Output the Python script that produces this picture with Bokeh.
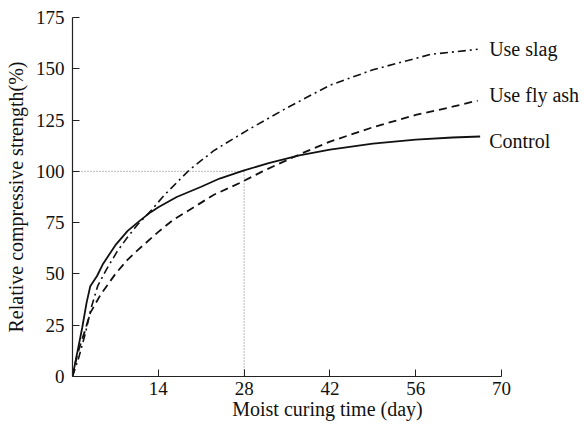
from bokeh.plotting import figure
from bokeh.models import Range1d, FixedTicker, ColumnDataSource
from bokeh.core.properties import value
from bokeh.embed import file_html
from bokeh.resources import INLINE

# ---- data ----
control_x = [0, 0.8, 1.6, 2.3, 2.9, 4.0, 5.0, 7.0, 9.0, 11.0, 12.7, 14.0, 17.0, 21.0, 24.0, 28.0, 32.0, 37.0, 42.0, 49.0, 56.0, 62.0, 66.5]
control_y = [0, 12, 24, 36, 44, 49, 55, 64, 71, 76, 80, 82.5, 87.5, 92.5, 96.5, 100.5, 104, 107.8, 110.6, 113.5, 115.5, 116.5, 117]

slag_x = [0, 1.0, 2.1, 3.0, 4.1, 5.5, 7.3, 9.0, 10.6, 12.7, 15.0, 19.0, 23.0, 28.5, 35.0, 42.0, 49.0, 58.4, 66.1]
slag_y = [0, 9, 21, 33, 44, 52, 61, 68, 74, 80.5, 88.5, 100.5, 110, 120, 131, 142, 149.5, 157, 159.5]

flyash_x = [0, 0.8, 2.0, 2.9, 4.6, 7.0, 9.0, 10.6, 14.0, 16.5, 19.8, 23.0, 27.4, 31.0, 35.0, 37.2, 42.0, 49.0, 56.0, 62.0, 66.1]
flyash_y = [0, 11, 22, 31, 40, 50, 57, 61.5, 70.5, 76.5, 82.5, 88.5, 94.5, 100, 105.5, 108.5, 114.5, 121.5, 127.5, 131.5, 134.5]

series_labels = ["Use slag", "Use fly ash", "Control"]
label_x = [66.5, 66.5, 66.5]
label_y = [159.5, 137.0, 115.0]

x_ticks = [14, 28, 42, 56, 70]
y_ticks = [0, 25, 50, 75, 100, 125, 150, 175]

ref_day = [0, 28]
ref_strength = [100, 100]

FONT = "Liberation Serif"

p = figure(width=584, height=426, output_backend="svg", toolbar_location=None,
           x_range=Range1d(0, 83.2), y_range=Range1d(0, 175),
           min_border_left=72, min_border_top=17, min_border_right=2, min_border_bottom=50)
p.outline_line_color = None
p.grid.grid_line_color = None
p.background_fill_color = "white"

# reference dotted lines
p.line([ref_day[0], ref_day[1]], [ref_strength[0], ref_strength[1]], line_color="#777777",
       line_width=1, line_dash="1 2")
p.line([ref_day[1], ref_day[1]], [0, ref_strength[1]], line_color="#777777",
       line_width=1, line_dash="1 2")

p.line(control_x, control_y, line_color="#111111", line_width=1.8)
p.line(flyash_x, flyash_y, line_color="#111111", line_width=1.8, line_dash="8 5")
p.line(slag_x, slag_y, line_color="#111111", line_width=1.6, line_dash="8 4 2 4")

src = ColumnDataSource(dict(x=label_x, y=label_y, t=series_labels))
p.text(x="x", y="y", text="t", source=src, x_offset=9, text_baseline="middle",
       text_align="left", text_font=value(FONT), text_font_size="20px", text_color="#111111")

for ax in (p.xaxis[0], p.yaxis[0]):
    ax.major_label_text_font = FONT
    ax.major_label_text_font_size = "19px"
    ax.major_label_text_color = "#111111"
    ax.axis_label_text_font = FONT
    ax.axis_label_text_font_size = "20px"
    ax.axis_label_text_font_style = "normal"
    ax.axis_label_text_color = "#111111"
    ax.axis_line_color = "#222222"
    ax.axis_line_width = 1.2
    ax.major_tick_line_color = "#222222"
    ax.major_tick_in = 7
    ax.major_tick_out = 0
    ax.minor_tick_line_color = None

p.xaxis[0].ticker = FixedTicker(ticks=x_ticks)
p.yaxis[0].ticker = FixedTicker(ticks=y_ticks)
p.xaxis[0].bounds = (0, 70)
p.xaxis[0].axis_label = "Moist curing time (day)"
p.yaxis[0].axis_label = "Relative compressive strength(%)"
p.xaxis[0].major_label_standoff = 5
p.yaxis[0].major_label_standoff = 8
p.xaxis[0].axis_label_standoff = 0
p.yaxis[0].axis_label_standoff = 6

open("out.html", "w").write(file_html(p, INLINE))
